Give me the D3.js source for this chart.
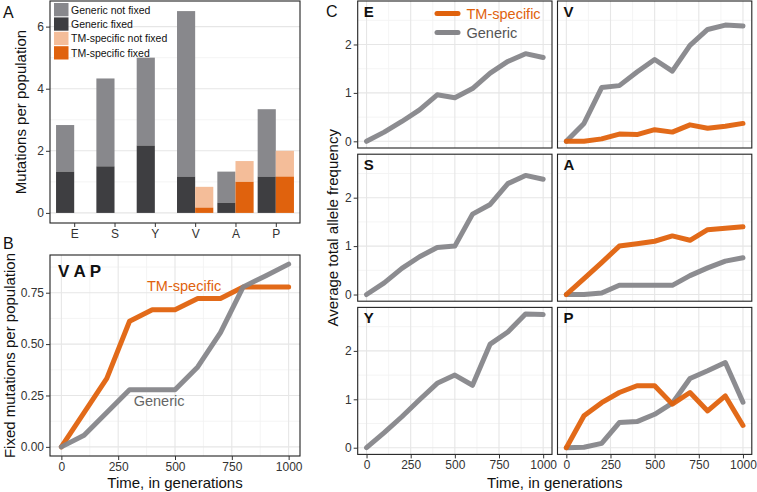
<!DOCTYPE html>
<html><head><meta charset="utf-8">
<script src="https://cdn.jsdelivr.net/npm/d3@7/dist/d3.min.js"></script>
<style>
html,body{margin:0;padding:0;background:#fff;}
svg{display:block;font-family:"Liberation Sans",Arial,Helvetica,sans-serif;}
</style></head>
<body>
<script>
// ---------- DATA ----------
const categories = ["E","S","Y","V","A","P"];
const genericFixed    = [1.33, 1.50, 2.17, 1.17, 0.33, 1.17];
const genericNotFixed = [1.50, 2.83, 2.83, 5.33, 1.00, 2.17];
const tmFixed         = [null, null, null, 0.17, 1.00, 1.17];
const tmNotFixed      = [null, null, null, 0.67, 0.67, 0.83];
const barLegend = ["Generic not fixed","Generic fixed","TM-specific not fixed","TM-specific fixed"];

const generations = [0,100,200,300,400,500,600,700,800,900,1000];
const vapTM      = [0,0.167,0.333,0.611,0.667,0.667,0.722,0.722,0.778,0.778,0.778];
const vapGeneric = [0,0.056,0.167,0.278,0.278,0.278,0.389,0.556,0.778,0.833,0.889];

const facets = ["E","V","S","A","Y","P"];
const E_generic = [0,0.19,0.41,0.65,0.96,0.90,1.09,1.41,1.65,1.81,1.73];
const S_generic = [0,0.24,0.54,0.78,0.97,1.00,1.66,1.86,2.29,2.46,2.38];
const Y_generic = [0,0.31,0.64,0.99,1.33,1.50,1.29,2.14,2.39,2.76,2.75];
const V_generic = [0,0.37,1.11,1.15,1.43,1.69,1.45,1.98,2.31,2.40,2.38];
const V_tm      = [0,0.00,0.05,0.15,0.14,0.24,0.19,0.34,0.27,0.31,0.37];
const A_generic = [0,0.00,0.03,0.19,0.19,0.19,0.19,0.39,0.55,0.69,0.76];
const A_tm      = [0,0.33,0.66,1.00,1.05,1.10,1.21,1.12,1.34,1.37,1.40];
const P_generic = [0,0.01,0.09,0.52,0.54,0.69,0.92,1.43,1.59,1.76,0.94];
const P_tm      = [0,0.66,0.93,1.14,1.28,1.28,0.90,1.14,0.76,1.07,0.46];

const xTicksTime = [0,250,500,750,1000];
const xMinorTime = [125,375,625,875];

// ---------- STYLE ----------
const COL = {gNF:"#88888c", gF:"#3e3e41", tNF:"#f4bd99", tF:"#e0620d",
             line:"#86868a", orange:"#e0620d", grid:"#e6e6e6", minor:"#f1f1f1",
             border:"#222", text:"#333"};
const W=757, H=492;
const svg = d3.select("body").append("svg").attr("width",W).attr("height",H);

function styleAxis(g){
  g.select(".domain").remove();
  g.selectAll(".tick line").attr("stroke","#333").attr("stroke-width",1);
  g.selectAll(".tick text").attr("fill",COL.text).style("font-size","12px")
    .style("font-family",'"Liberation Sans",Arial,sans-serif');
}
function hgrid(g,y,vals,x0,x1,color,w){
  g.selectAll(null).data(vals).enter().append("line")
   .attr("x1",x0).attr("x2",x1).attr("y1",d=>y(d)).attr("y2",d=>y(d))
   .attr("stroke",color).attr("stroke-width",w);
}
function vgrid(g,x,vals,y0,y1,color,w){
  g.selectAll(null).data(vals).enter().append("line")
   .attr("y1",y0).attr("y2",y1).attr("x1",d=>x(d)).attr("x2",d=>x(d))
   .attr("stroke",color).attr("stroke-width",w);
}
function border(x0,y0,x1,y1){
  svg.append("rect").attr("x",x0).attr("y",y0).attr("width",x1-x0).attr("height",y1-y0)
    .attr("fill","none").attr("stroke",COL.border).attr("stroke-width",1.1);
}

// ---------- PANEL A ----------
{
  const L=50,R=300,T=1,B=223;
  const totals = categories.map((c,i)=>genericFixed[i]+genericNotFixed[i]);
  const maxA = d3.max(totals);
  const x = d3.scalePoint().domain(categories).range([L,R]).padding(0.6);
  const y = d3.scaleLinear().domain([-0.05*maxA, 1.05*maxA]).range([B,T]);
  const g = svg.append("g");
  hgrid(g,y,[1,3,5],L,R,COL.minor,0.8);
  hgrid(g,y,[0,2,4,6],L,R,COL.grid,1.1);
  const bw = x.step()*0.45;
  categories.forEach((c,i)=>{
    const cx = x(c);
    g.append("rect").attr("x",cx-bw).attr("width",bw)
      .attr("y",y(genericFixed[i]+genericNotFixed[i])).attr("height",y(genericFixed[i])-y(genericFixed[i]+genericNotFixed[i]))
      .attr("fill",COL.gNF);
    g.append("rect").attr("x",cx-bw).attr("width",bw)
      .attr("y",y(genericFixed[i])).attr("height",y(0)-y(genericFixed[i])).attr("fill",COL.gF);
    if(tmFixed[i]!==null){
      g.append("rect").attr("x",cx).attr("width",bw)
        .attr("y",y(tmFixed[i]+tmNotFixed[i])).attr("height",y(tmFixed[i])-y(tmFixed[i]+tmNotFixed[i]))
        .attr("fill",COL.tNF);
      g.append("rect").attr("x",cx).attr("width",bw)
        .attr("y",y(tmFixed[i])).attr("height",y(0)-y(tmFixed[i])).attr("fill",COL.tF);
    }
  });
  border(L,T,R,B);
  svg.append("g").attr("transform",`translate(${L},0)`)
    .call(d3.axisLeft(y).tickValues([0,2,4,6]).tickSize(4).tickPadding(2).tickFormat(d3.format("d"))).call(styleAxis);
  svg.append("g").attr("transform",`translate(0,${B})`)
    .call(d3.axisBottom(x).tickSize(4).tickPadding(2)).call(styleAxis);
  const lc=[COL.gNF,COL.gF,COL.tNF,COL.tF];
  barLegend.forEach((t,i)=>{
    const yy = 3+i*14.4;
    svg.append("rect").attr("x",54).attr("y",yy).attr("width",14.5).attr("height",13.3).attr("fill",lc[i]);
    svg.append("text").attr("x",71).attr("y",yy+10.5).text(t).attr("fill","#111").style("font-size","10.5px");
  });
  svg.append("text").attr("transform",`translate(26,${(T+B)/2}) rotate(-90)`).attr("text-anchor","middle")
    .text("Mutations per population").attr("fill","#111").style("font-size","15px");
  svg.append("text").attr("x",3).attr("y",18).text("A").attr("fill","#111").style("font-size","16px");
}

// ---------- PANEL B ----------
{
  const L=50,R=300,T=255,B=456;
  const maxB = d3.max(vapGeneric.concat(vapTM));
  const x = d3.scaleLinear().domain([-50,1050]).range([L,R]);
  const y = d3.scaleLinear().domain([-0.05*maxB,1.05*maxB]).range([B,T]);
  const g = svg.append("g");
  hgrid(g,y,[0.125,0.375,0.625,0.875],L,R,COL.minor,0.8);
  vgrid(g,x,xMinorTime,T,B,COL.minor,0.8);
  hgrid(g,y,[0,0.25,0.5,0.75],L,R,COL.grid,1.1);
  vgrid(g,x,xTicksTime,T,B,COL.grid,1.1);
  const line = d3.line().x((d,i)=>x(generations[i])).y(d=>y(d));
  g.append("path").attr("d",line(vapTM)).attr("fill","none").attr("stroke",COL.orange)
    .attr("stroke-width",5).attr("stroke-linejoin","round").attr("stroke-linecap","round").attr("opacity",0.95);
  g.append("path").attr("d",line(vapGeneric)).attr("fill","none").attr("stroke",COL.line)
    .attr("stroke-width",5).attr("stroke-linejoin","round").attr("stroke-linecap","round").attr("opacity",0.95);
  border(L,T,R,B);
  svg.append("g").attr("transform",`translate(${L},0)`)
    .call(d3.axisLeft(y).tickValues([0,0.25,0.5,0.75]).tickSize(4).tickPadding(2).tickFormat(d3.format(".2f"))).call(styleAxis);
  svg.append("g").attr("transform",`translate(0,${B})`)
    .call(d3.axisBottom(x).tickValues(xTicksTime).tickSize(4).tickPadding(2).tickFormat(d3.format("d"))).call(styleAxis);
  svg.append("text").attr("x",58).attr("y",277).text("V A P").attr("fill","#111")
    .style("font-size","17px").style("font-weight","bold");
  svg.append("text").attr("x",x(540)).attr("y",291).attr("text-anchor","middle").text("TM-specific")
    .attr("fill",COL.orange).style("font-size","14.5px");
  svg.append("text").attr("x",x(430)).attr("y",406).attr("text-anchor","middle").text("Generic")
    .attr("fill","#666").style("font-size","14.5px");
  svg.append("text").attr("transform",`translate(15,${(T+B)/2}) rotate(-90)`).attr("text-anchor","middle")
    .text("Fixed mutations per population").attr("fill","#111").style("font-size","15px");
  svg.append("text").attr("x",(L+R)/2).attr("y",488).attr("text-anchor","middle")
    .text("Time, in generations").attr("fill","#111").style("font-size","15px");
  svg.append("text").attr("x",3).attr("y",249).text("B").attr("fill","#111").style("font-size","16px");
}

// ---------- PANEL C ----------
{
  const series = {
    E:{g:E_generic}, S:{g:S_generic}, Y:{g:Y_generic},
    V:{g:V_generic,t:V_tm}, A:{g:A_generic,t:A_tm}, P:{g:P_generic,t:P_tm}
  };
  const all = [].concat(E_generic,S_generic,Y_generic,V_generic,V_tm,A_generic,A_tm,P_generic,P_tm);
  const maxC = d3.max(all);
  const cols = [[357.7,552],[557.5,751.8]];
  const rowH = 147, gap = 6.2, top0 = 1;
  facets.forEach((f,k)=>{
    const col = k%2, row = Math.floor(k/2);
    const [L,R] = cols[col];
    const T = top0 + row*(rowH+gap), B = T+rowH;
    const x = d3.scaleLinear().domain([-50,1050]).range([L,R]);
    const y = d3.scaleLinear().domain([-0.05*maxC,1.05*maxC]).range([B,T]);
    const g = svg.append("g");
    hgrid(g,y,[0.5,1.5,2.5],L,R,COL.minor,0.8);
    vgrid(g,x,xMinorTime,T,B,COL.minor,0.8);
    hgrid(g,y,[0,1,2],L,R,COL.grid,1.1);
    vgrid(g,x,xTicksTime,T,B,COL.grid,1.1);
    const line = d3.line().x((d,i)=>x(generations[i])).y(d=>y(d));
    g.append("path").attr("d",line(series[f].g)).attr("fill","none").attr("stroke",COL.line)
      .attr("stroke-width",5).attr("stroke-linejoin","round").attr("stroke-linecap","round").attr("opacity",0.95);
    if(series[f].t){
      g.append("path").attr("d",line(series[f].t)).attr("fill","none").attr("stroke",COL.orange)
        .attr("stroke-width",5).attr("stroke-linejoin","round").attr("stroke-linecap","round").attr("opacity",0.95);
    }
    border(L,T,R,B);
    svg.append("text").attr("x",L+6).attr("y",T+16).text(f).attr("fill","#111")
      .style("font-size","15px").style("font-weight","bold");
    if(col===0){
      svg.append("g").attr("transform",`translate(${L},0)`)
        .call(d3.axisLeft(y).tickValues([0,1,2]).tickSize(4).tickPadding(2).tickFormat(d3.format("d"))).call(styleAxis);
    }
    if(row===2){
      svg.append("g").attr("transform",`translate(0,${B})`)
        .call(d3.axisBottom(x).tickValues(xTicksTime).tickSize(4).tickPadding(2).tickFormat(d3.format("d"))).call(styleAxis);
    }
  });
  const lg = svg.append("g");
  lg.append("line").attr("x1",437).attr("x2",458).attr("y1",13.5).attr("y2",13.5)
    .attr("stroke",COL.orange).attr("stroke-width",5).attr("stroke-linecap","round");
  lg.append("text").attr("x",466.5).attr("y",18.5).text("TM-specific").attr("fill",COL.orange).style("font-size","14.5px");
  lg.append("line").attr("x1",437).attr("x2",458).attr("y1",32.5).attr("y2",32.5)
    .attr("stroke",COL.line).attr("stroke-width",5).attr("stroke-linecap","round");
  lg.append("text").attr("x",466.5).attr("y",37.5).text("Generic").attr("fill","#555").style("font-size","14.5px");

  svg.append("text").attr("transform",`translate(338,${(1+454.5)/2}) rotate(-90)`).attr("text-anchor","middle")
    .text("Average total allele frequency").attr("fill","#111").style("font-size","15px");
  svg.append("text").attr("x",(357.7+751.8)/2).attr("y",488).attr("text-anchor","middle")
    .text("Time, in generations").attr("fill","#111").style("font-size","15px");
  svg.append("text").attr("x",326).attr("y",17).text("C").attr("fill","#111").style("font-size","16px");
}
</script>
</body></html>
